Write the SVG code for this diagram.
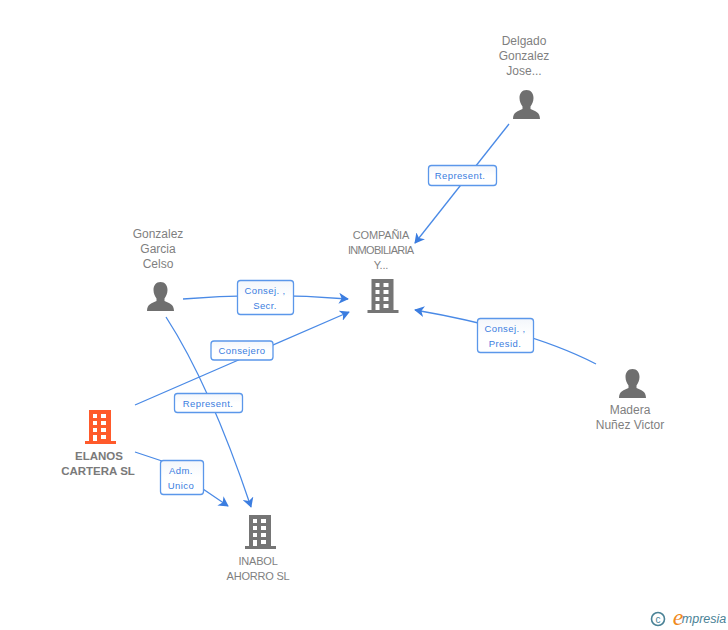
<svg xmlns="http://www.w3.org/2000/svg" width="728" height="630" viewBox="0 0 728 630">
<style>
text{font-family:"Liberation Sans",Arial,sans-serif;text-anchor:middle}
.n{font-size:12px;fill:#7f7f7f}
.s{font-size:11px;fill:#7f7f7f;letter-spacing:-.2px}
.b{font-size:11.500px;font-weight:bold;fill:#7a7a7a}
.l{font-size:9.500px;fill:#3b7de0;letter-spacing:.4px}
.c{fill:none;stroke:#4a8ae6;stroke-width:1.300}
.r{fill:url(#g);stroke:#5b97ea;stroke-width:1.300}
</style>
<defs>
<linearGradient id="g" x1="0" y1="0" x2="0" y2="1"><stop offset="0" stop-color="#f3f6fb"/><stop offset=".5" stop-color="#fff"/></linearGradient>
<marker id="a" viewBox="0 0 12 12" refX="10" refY="6" markerWidth="11" markerHeight="11" markerUnits="userSpaceOnUse" orient="auto"><path d="M0 0L11 6L0 12L3 6Z" fill="#3b7de0"/></marker>
<path id="bld" fill-rule="evenodd" d="M4 0H26V31H31V34H0V31H4ZM8 4V8H12V4ZM16 4V8H21V4ZM8 11V15H12V11ZM16 11V15H21V11ZM8 18V22H12V18ZM16 18V22H21V18ZM8 25V31H12V25ZM16 25V29H21V25Z"/>
<path id="per" d="M13.500 0C18 0 20.500 3.500 20.500 8C20.500 11.500 19 14.500 17.500 16.500V19C22 21 27 22 27 29H0C0 22 5 21 9.500 19V16.500C8 14.500 6.500 11.500 6.500 8C6.500 3.500 9 0 13.500 0Z"/>
</defs>
<g id="connectors">
<path class="c" d="M509 124L415 243" marker-end="url(#a)"/>
<path class="c" d="M183 299Q265 292 348 299" marker-end="url(#a)"/>
<path class="c" d="M135 405L349 312" marker-end="url(#a)"/>
<path class="c" d="M166 317Q210 385 251 507" marker-end="url(#a)"/>
<path class="c" d="M135 452L162 461L203 489L228 506" marker-end="url(#a)"/>
<path class="c" d="M596 364Q530 330 415 310" marker-end="url(#a)"/>
</g>
<g id="label-represent1"><rect class="r" x="428.500" y="165.500" width="68" height="20" rx="3"/><text class="l" x="460" y="179">Represent.</text></g>
<g id="label-secr"><rect class="r" x="237.500" y="280.500" width="56" height="34" rx="3"/><text class="l" x="265" y="294">Consej. ,</text><text class="l" x="265" y="309">Secr.</text></g>
<g id="label-consejero"><rect class="r" x="211" y="341" width="62" height="19" rx="3"/><text class="l" x="242" y="354">Consejero</text></g>
<g id="label-represent2"><rect class="r" x="174.500" y="393.500" width="68" height="19" rx="3"/><text class="l" x="208" y="407">Represent.</text></g>
<g id="label-adm"><rect class="r" x="160.500" y="460.500" width="43" height="34" rx="3"/><text class="l" x="181" y="474">Adm.</text><text class="l" x="181" y="489">Unico</text></g>
<g id="label-presid"><rect class="r" x="477.500" y="318.500" width="56" height="34" rx="3"/><text class="l" x="505" y="332">Consej. ,</text><text class="l" x="505" y="347">Presid.</text></g>
<g id="node-delgado"><text class="n" x="524" y="45">Delgado</text><text class="n" x="524" y="60">Gonzalez</text><text class="n" x="524" y="75">Jose...</text><use href="#per" x="513" y="90" fill="#6f6f6f"/></g>
<g id="node-gonzalez"><text class="n" x="158" y="238">Gonzalez</text><text class="n" x="158" y="253">Garcia</text><text class="n" x="158" y="268">Celso</text><use href="#per" x="147" y="282" fill="#6f6f6f"/></g>
<g id="node-compania"><text class="s" x="381" y="239">COMPAÑIA</text><text class="s" x="381" y="254" textLength="66">INMOBILIARIA</text><text class="s" x="381" y="269">Y...</text><use href="#bld" x="367.500" y="279" fill="#757575"/></g>
<g id="node-madera"><use href="#per" x="619" y="369" fill="#6f6f6f"/><text class="n" x="630" y="414">Madera</text><text class="n" x="630" y="429">Nuñez Victor</text></g>
<g id="node-elanos"><use href="#bld" x="85" y="410" fill="#ff5a2b"/><text class="b" x="99" y="460">ELANOS</text><text class="b" x="98" y="475">CARTERA SL</text></g>
<g id="node-inabol"><use href="#bld" x="245" y="515" fill="#757575"/><text class="s" x="258" y="565">INABOL</text><text class="s" x="258" y="580">AHORRO SL</text></g>
<g id="logo"><circle cx="658" cy="619" r="6.500" fill="none" stroke="#4a8296" stroke-width="1.600"/><text x="658" y="622.500" style="font-size:10px;fill:#4a8296">c</text><text x="678" y="625" style="font-size:24px;font-style:italic;fill:#f08a1d;font-family:'Liberation Serif',serif">e</text><text x="704" y="623" style="font-size:12.500px;font-style:italic;fill:#4a8296">mpresia</text></g>
</svg>
